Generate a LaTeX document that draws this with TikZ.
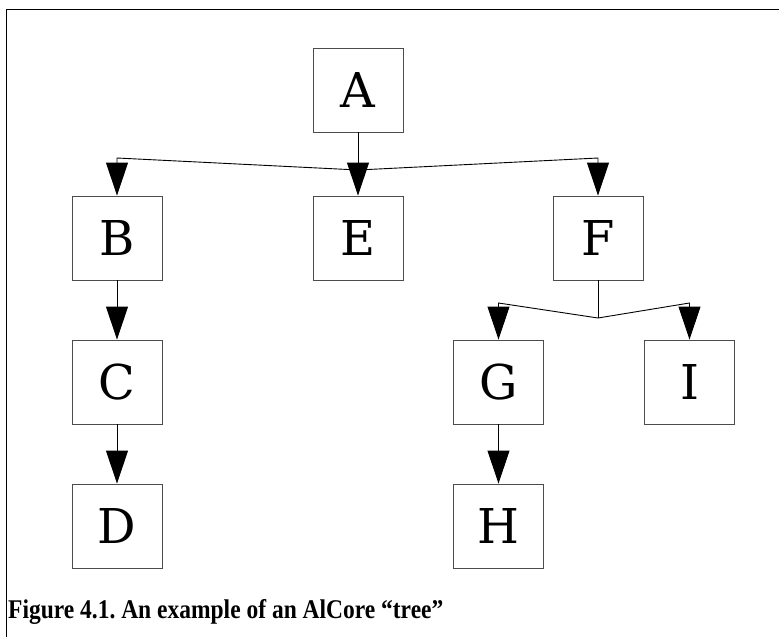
\documentclass[tikz,border=0pt]{standalone}
\usepackage{fontspec}
\setmainfont{DejaVu Serif}
\newfontfamily\capfont[FakeStretch=0.87]{Liberation Serif}
\usetikzlibrary{arrows.meta,calc}
\tikzset{
  treebox/.style={draw=black!70, line width=0.9pt, minimum width=90pt, minimum height=84pt,
    inner sep=0pt, font=\fontsize{48}{48}\selectfont},
  link/.style={draw=black, line width=0.9pt},
  tip/.style={link, -{Triangle[length=33pt,width=22pt,fill=black]}},
}
\begin{document}
\frenchspacing
\begin{tikzpicture}[x=1pt,y=-1pt]
\useasboundingbox (0,0) rectangle (779,637);
% outer frame (top and left edges only)
\draw[line width=1pt] (6,637) -- (6,9) -- (779,9);

% boxes
\node[treebox] (A) at (358,90) {A};
\node[treebox] (B) at (117,238) {B};
\node[treebox] (E) at (358,238) {E};
\node[treebox] (F) at (598,238) {F};
\node[treebox] (C) at (117,382) {C};
\node[treebox] (G) at (498.5,382) {G};
\node[treebox] (I) at (689.5,382) {I};
\node[treebox] (D) at (117,526) {D};
\node[treebox] (H) at (498.5,526) {H};

% junction points of the branching connectors
\coordinate (jA) at (358,170);
\coordinate (sB) at (117,158);
\coordinate (sF) at (598,158);
\coordinate (jF) at (598,318);
\coordinate (sG) at (498.5,303);
\coordinate (sI) at (689.5,303);

% A -> B, E, F
\draw[tip] (A.south) -- (E.north);
\draw[tip] (jA) -- (sB) -- (B.north);
\draw[tip] (jA) -- (sF) -- (F.north);

% F -> G, I
\draw[link] (F.south) -- (jF);
\draw[tip] (jF) -- (sG) -- (G.north);
\draw[tip] (jF) -- (sI) -- (I.north);

% single chains
\draw[tip] (B.south) -- (C.north);
\draw[tip] (C.south) -- (D.north);
\draw[tip] (G.south) -- (H.north);

% caption
\node[anchor=base west, inner sep=0pt, font=\capfont\bfseries\fontsize{27}{27}\selectfont] (cap) at (8,618)
  {Figure 4.1. An example of an AlCore “tree”};
\end{tikzpicture}
\end{document}
